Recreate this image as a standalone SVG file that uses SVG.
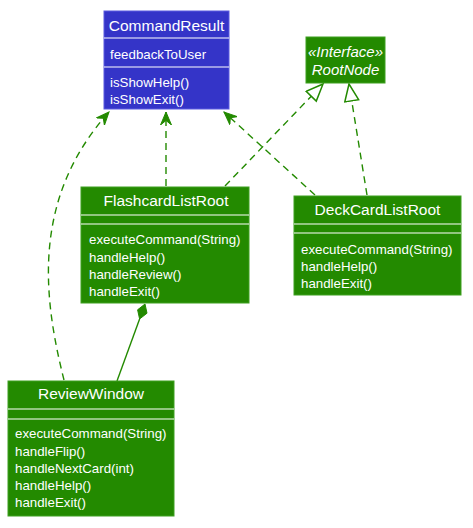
<svg xmlns="http://www.w3.org/2000/svg" width="473" height="528" viewBox="0 0 473 528">
<style>
  .blue { fill: #3434C8; stroke: #5A5AE0; stroke-width: 1; }
  .green { fill: #238A00; stroke: #3FA020; stroke-width: 1; }
  .div { stroke: #FFFFFF; stroke-width: 1.2; }
  .t { font-family: "Liberation Sans", Arial, sans-serif; fill: #FFFFFF; }
  .title { font-size: 15.5px; text-anchor: middle; }
  .m { font-size: 13.3px; }
  .st { font-size: 15px; font-style: italic; text-anchor: middle; }
  .dash { fill: none; stroke: #238A00; stroke-width: 1.4; stroke-dasharray: 7,5; }
  .solid { fill: none; stroke: #238A00; stroke-width: 1.4; }
</style>
<defs>
  <marker id="dep" markerUnits="userSpaceOnUse" markerWidth="14" markerHeight="12" refX="13" refY="6" orient="auto" viewBox="0 0 14 12">
    <path d="M13,6 L0,0.5 L4.5,6 L0,11.5 Z" fill="#238A00" stroke="#238A00" stroke-width="1"/>
  </marker>
  <marker id="real" markerUnits="userSpaceOnUse" markerWidth="20" markerHeight="18" refX="18" refY="8" orient="auto" viewBox="0 0 20 18">
    <path d="M18,8 L1,1 L1,15 Z" fill="#FFFFFF" stroke="#238A00" stroke-width="1.5"/>
  </marker>
</defs>

<g id="connectors">
  <path class="dash" d="M64,380 C44,300 30,200 109,112" marker-end="url(#dep)"/>
  <path class="dash" d="M166,186 L166,112" marker-end="url(#dep)"/>
  <path class="dash" d="M315,195 L224,112" marker-end="url(#dep)"/>
  <path class="dash" d="M225,186 L323,84" marker-end="url(#real)"/>
  <path class="dash" d="M367,195 L349,84" marker-end="url(#real)"/>
  <path class="solid" d="M139.6,319 L117,381"/>
  <polygon points="145,304 147,313.2 139.6,319 137.6,309.8" fill="#238A00" stroke="#238A00" stroke-width="1"/>
</g>

<g id="CommandResult">
  <rect class="blue" x="104" y="11" width="125" height="98"/>
  <line class="div" x1="104" y1="38" x2="229" y2="38"/>
  <line class="div" x1="104" y1="67" x2="229" y2="67"/>
  <text class="t title" x="166.5" y="31">CommandResult</text>
  <text class="t m" x="110" y="59">feedbackToUser</text>
  <text class="t m" x="110" y="87">isShowHelp()</text>
  <text class="t m" x="110" y="104">isShowExit()</text>
</g>

<g id="RootNode">
  <rect class="green" x="306" y="37" width="79" height="46"/>
  <text class="t st" x="345.5" y="57">«Interface»</text>
  <text class="t st" x="345.5" y="75">RootNode</text>
</g>

<g id="FlashcardListRoot">
  <rect class="green" x="81" y="187" width="168" height="116"/>
  <line class="div" x1="81" y1="215" x2="249" y2="215"/>
  <line class="div" x1="81" y1="224" x2="249" y2="224"/>
  <text class="t title" x="166" y="206">FlashcardListRoot</text>
  <text class="t m" x="89" y="244">executeCommand(String)</text>
  <text class="t m" x="89" y="262">handleHelp()</text>
  <text class="t m" x="89" y="279">handleReview()</text>
  <text class="t m" x="89" y="296">handleExit()</text>
</g>

<g id="DeckCardListRoot">
  <rect class="green" x="294" y="196" width="167" height="99"/>
  <line class="div" x1="294" y1="224" x2="461" y2="224"/>
  <line class="div" x1="294" y1="233" x2="461" y2="233"/>
  <text class="t title" x="377.5" y="215">DeckCardListRoot</text>
  <text class="t m" x="301" y="254">executeCommand(String)</text>
  <text class="t m" x="301" y="271">handleHelp()</text>
  <text class="t m" x="301" y="288">handleExit()</text>
</g>

<g id="ReviewWindow">
  <rect class="green" x="8" y="381" width="166" height="135"/>
  <line class="div" x1="8" y1="409" x2="174" y2="409"/>
  <line class="div" x1="8" y1="419" x2="174" y2="419"/>
  <text class="t title" x="91" y="399">ReviewWindow</text>
  <text class="t m" x="15" y="438">executeCommand(String)</text>
  <text class="t m" x="15" y="456">handleFlip()</text>
  <text class="t m" x="15" y="473">handleNextCard(int)</text>
  <text class="t m" x="15" y="490">handleHelp()</text>
  <text class="t m" x="15" y="507">handleExit()</text>
</g>
</svg>
